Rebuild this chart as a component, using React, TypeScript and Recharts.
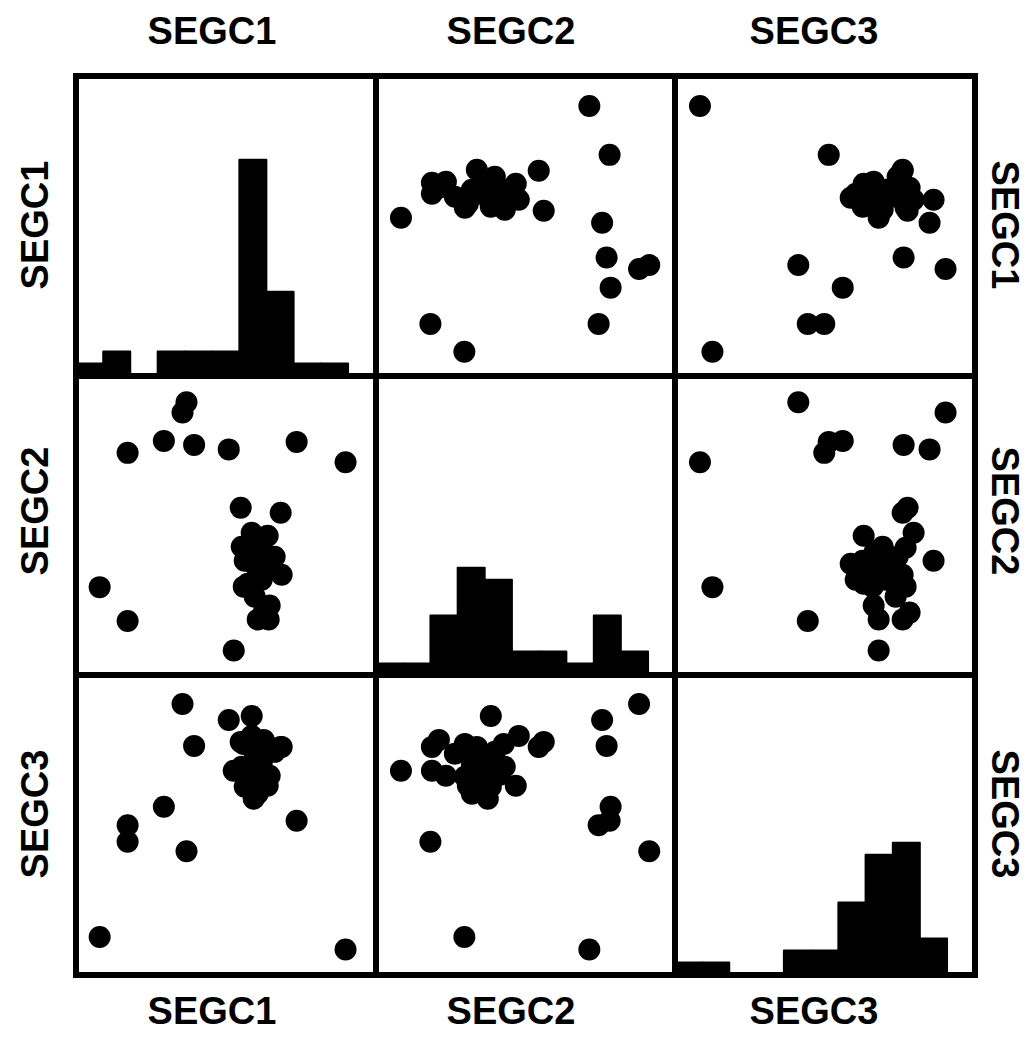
import React from 'react'
import { ScatterChart, Scatter, BarChart, Bar, XAxis, YAxis } from 'recharts'

// panel-relative values (0-300 scale, no ticks shown in the original)
const SEGC1 = [23.7, 51.7, 51.7, 88, 106.7, 110.7, 118.3, 153, 158, 221, 270, 165, 205, 176,
  193, 188, 182, 194, 179, 168, 206, 186, 172, 182, 169, 199, 186, 166, 192, 176, 183, 180, 175, 193, 178, 172]
const SEGC2 = [88.5, 54.5, 223, 235, 263.5, 273.7, 231, 226.5, 25, 234, 213.7, 168, 163, 115,
  56, 63, 56, 70, 79, 89, 101, 96, 92, 96, 115, 119, 128, 129, 140, 143, 106, 116, 89, 106, 112, 124]
const SEGC3 = [37.5, 133, 149.5, 168, 271, 123.5, 229, 255, 204, 154, 25, 233, 228, 259,
  228, 235, 204, 199, 221, 231, 228, 211, 189, 181, 188, 223, 231, 208, 189, 239, 216, 206, 198, 199, 176, 200]

// histogram counts, 11 equal bins per variable
const HIST_SEGC1 = [1, 2, 0, 2, 2, 2, 18, 7, 1, 1, 0]
const HIST_SEGC2 = [1, 1, 5, 9, 8, 2, 2, 1, 5, 2, 0]
const HIST_SEGC3 = [1, 1, 0, 0, 2, 2, 6, 10, 11, 3, 0]

const VARS = ['SEGC1', 'SEGC2', 'SEGC3']
const VALUES = [SEGC1, SEGC2, SEGC3]
const HISTS = [HIST_SEGC1, HIST_SEGC2, HIST_SEGC3]

const ORIGIN = 76
const STEP = 299.5
const PAD = 14
const BORDER = 6
const FONT = '"Liberation Sans", Arial, Helvetica, sans-serif'

const TOP_LABEL_X = [212, 511, 814]
const SIDE_LABEL_Y = [225, 511, 814]

function Dot(props: any) {
  return <circle cx={props.cx} cy={props.cy} r={11} fill="#000" />
}

function ScatterPanel({ xs, ys }: { xs: number[]; ys: number[] }) {
  const data = xs.map((x, i) => ({ x, y: ys[i] }))
  return (
    <ScatterChart width={STEP + PAD * 2} height={STEP + PAD * 2} margin={{ top: PAD, right: PAD, bottom: PAD, left: PAD }}>
      <XAxis type="number" dataKey="x" domain={[0, 300]} hide />
      <YAxis type="number" dataKey="y" domain={[0, 300]} hide />
      <Scatter data={data} shape={Dot} isAnimationActive={false} />
    </ScatterChart>
  )
}

function HistPanel({ counts }: { counts: number[] }) {
  const data = counts.map((count, i) => ({ bin: i, count }))
  return (
    <BarChart
      width={STEP + PAD * 2}
      height={STEP + PAD * 2}
      data={data}
      margin={{ top: PAD, right: PAD, bottom: PAD, left: PAD }}
      barCategoryGap={0}
    >
      <XAxis dataKey="bin" hide />
      <YAxis type="number" domain={[0, 25]} hide />
      <Bar dataKey="count" fill="#000" stroke="#000" strokeWidth={2} strokeLinejoin="round" isAnimationActive={false} />
    </BarChart>
  )
}

export default function App() {
  return (
    <div style={{ position: 'absolute', left: 0, top: 0, width: 1035, height: 1041, background: '#fff' }}>
      {VARS.map((_, r) =>
        VARS.map((__, c) => (
          <div
            key={`p${r}${c}`}
            style={{ position: 'absolute', left: ORIGIN + STEP * c - PAD, top: ORIGIN + STEP * r - PAD }}
          >
            {r === c ? (
              <HistPanel counts={HISTS[c]} />
            ) : (
              <ScatterPanel xs={VALUES[c]} ys={VALUES[r]} />
            )}
          </div>
        ))
      )}
      {VARS.map((_, r) =>
        VARS.map((__, c) => (
          <div
            key={`b${r}${c}`}
            style={{
              position: 'absolute',
              left: ORIGIN + STEP * c - BORDER / 2,
              top: ORIGIN + STEP * r - BORDER / 2,
              width: STEP + BORDER,
              height: STEP + BORDER,
              border: `${BORDER}px solid #000`,
              boxSizing: 'border-box',
            }}
          />
        ))
      )}
      <svg width={1035} height={1041} style={{ position: 'absolute', left: 0, top: 0 }}>
        <g fontFamily={FONT} fontWeight="bold" fontSize={38} fill="#000" textAnchor="middle">
          {VARS.map((v, i) => (
            <text key={`t${v}`} x={TOP_LABEL_X[i]} y={44}>{v}</text>
          ))}
          {VARS.map((v, i) => (
            <text key={`bt${v}`} x={TOP_LABEL_X[i]} y={1024}>{v}</text>
          ))}
          {VARS.map((v, i) => (
            <text key={`l${v}`} transform={`translate(48,${SIDE_LABEL_Y[i]}) rotate(-90)`}>{v}</text>
          ))}
          {VARS.map((v, i) => (
            <text key={`r${v}`} transform={`translate(992,${SIDE_LABEL_Y[i]}) rotate(90)`}>{v}</text>
          ))}
        </g>
      </svg>
    </div>
  )
}
